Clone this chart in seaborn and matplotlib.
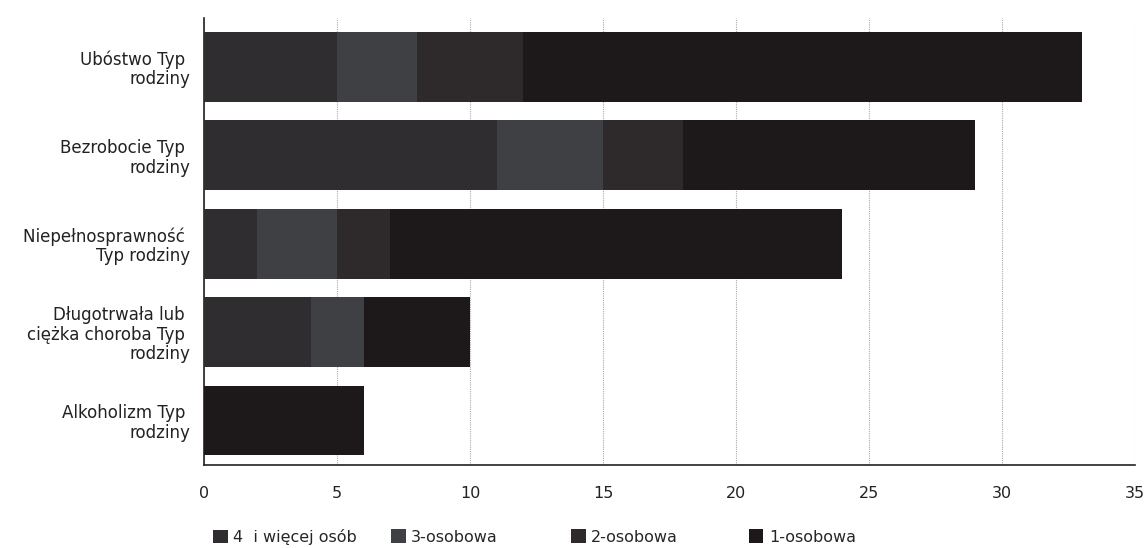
import matplotlib
matplotlib.use("Agg")
import matplotlib.pyplot as plt
import seaborn as sns
import pandas as pd
import numpy as np
from matplotlib.patches import Patch

categories = ["Ubóstwo Typ \nrodziny", "Bezrobocie Typ \nrodziny", "Niepełnosprawność \nTyp rodziny",
              "Długotrwała lub \nciężka choroba Typ \nrodziny", "Alkoholizm Typ \nrodziny"]
series_names = ["4  i więcej osób", "3-osobowa", "2-osobowa", "1-osobowa"]
four_plus = [5, 11, 2, 4, 0]
three = [3, 4, 3, 2, 0]
two = [4, 3, 2, 0, 0]
one = [21, 11, 17, 4, 6]
colors = ["#2f2d2f", "#3f4043", "#2e292b", "#1d191a"]
xticks = [0, 5, 10, 15, 20, 25, 30, 35]

sns.set_theme(style="white")
plt.rcParams['font.family'] = ['DejaVu Sans']
plt.rcParams['font.sans-serif'] = ['DejaVu Sans']

fig = plt.figure(figsize=(11.47, 5.48), dpi=100)
ax = fig.add_axes([0.178, 0.152, 0.8115, 0.815])

vals = np.array([four_plus, three, two, one], dtype=float)
cum = np.cumsum(vals, axis=0)
# draw from largest cumulative to smallest so each stacked segment shows
for i in range(3, -1, -1):
    df = pd.DataFrame({"cat": categories, "val": cum[i]})
    sns.barplot(data=df, x="val", y="cat", color=colors[i], ax=ax, width=0.79,
                saturation=1, orient="h", zorder=3, edgecolor="none")

ax.set_xlim(0, 35)
ax.set_xticks(xticks)
ax.set_xticklabels([str(t) for t in xticks], fontsize=11.5, color="#222222", family="DejaVu Sans")
ax.set_ylabel("")
ax.set_xlabel("")
ax.tick_params(axis="y", length=0, pad=10)
ax.tick_params(axis="x", length=0, pad=15)
for lbl in ax.get_yticklabels():
    lbl.set_horizontalalignment("right")
    lbl.set_multialignment("right")
    lbl.set_fontsize(12)
    lbl.set_color("#222222")
    lbl.set_family("DejaVu Sans")
    lbl.set_linespacing(1.1)
ax.grid(axis="x", color="#aaaaaa", linestyle=(0, (1, 1)), linewidth=0.8, zorder=0)
ax.set_axisbelow(True)
for s in ["top", "right"]:
    ax.spines[s].set_visible(False)
ax.spines["left"].set_color("#222222")
ax.spines["bottom"].set_color("#222222")
ax.spines["left"].set_linewidth(1.2)
ax.spines["bottom"].set_linewidth(1.2)
ax.set_ylim(4.5, -0.55)

xpos = [0.186, 0.341, 0.498, 0.653]
for name, c, xp in zip(series_names, colors, xpos):
    fig.legend([Patch(facecolor=c, edgecolor="none")], [name], loc="center left",
               bbox_to_anchor=(xp, 0.02), frameon=False,
               prop={"family": "DejaVu Sans", "size": 11.5},
               handlelength=0.9, handleheight=0.9, handletextpad=0.35,
               borderpad=0, borderaxespad=0)

fig.savefig("out.png", dpi=100)
